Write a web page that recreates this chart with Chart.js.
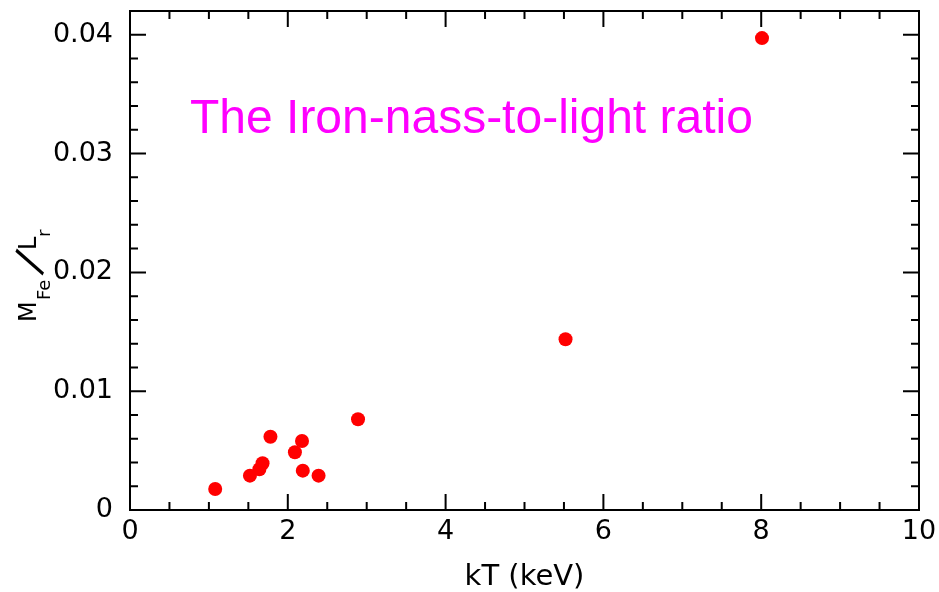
<!DOCTYPE html>
<html>
<head>
<meta charset="utf-8">
<script src="https://cdn.jsdelivr.net/npm/chart.js@4.4.1/dist/chart.umd.min.js"></script>
<style>
  html, body { margin: 0; padding: 0; background: #fff; }
</style>
</head>
<body>
<canvas id="ironChart" width="939" height="592"></canvas>
<script>
// data
const kT = [1.08, 1.52, 1.64, 1.68, 1.78, 2.09, 2.18, 2.19, 2.39, 2.89, 5.52, 8.01];
const massToLight = [0.00177, 0.00289, 0.00343, 0.00393, 0.00617, 0.00486, 0.00581, 0.00331, 0.00289, 0.00764, 0.01437, 0.03972];

const xTicks = [0, 2, 4, 6, 8, 10];
const xTickLabels = ['0', '2', '4', '6', '8', '10'];
const xMinorTicks = [0.5, 1, 1.5, 2.5, 3, 3.5, 4.5, 5, 5.5, 6.5, 7, 7.5, 8.5, 9, 9.5];
const yTicks = [0, 0.01, 0.02, 0.03, 0.04];
const yTickLabels = ['0', '0.01', '0.02', '0.03', '0.04'];
const yMinorTicks = [0.002, 0.004, 0.006, 0.008, 0.012, 0.014, 0.016, 0.018, 0.022, 0.024, 0.026, 0.028, 0.032, 0.034, 0.036, 0.038];

const titleText = 'The Iron-nass-to-light ratio';
const xTitle = 'kT (keV)';

const points = kT.map((x, i) => ({ x: x, y: massToLight[i] }));

// frame, inward ticks on all sides, titles
const framePlugin = {
  id: 'frame',
  afterDraw(chart) {
    const ctx = chart.ctx;
    const a = chart.chartArea;
    const xs = chart.scales.x;
    const ys = chart.scales.y;
    ctx.save();
    ctx.strokeStyle = '#000';
    ctx.lineWidth = 2;
    ctx.strokeRect(a.left, a.top, a.right - a.left, a.bottom - a.top);

    ctx.beginPath();
    const xTick = (v, len) => {
      const px = xs.getPixelForValue(v);
      ctx.moveTo(px, a.bottom); ctx.lineTo(px, a.bottom - len);
      ctx.moveTo(px, a.top); ctx.lineTo(px, a.top + len);
    };
    const yTick = (v, len) => {
      const py = ys.getPixelForValue(v);
      ctx.moveTo(a.left, py); ctx.lineTo(a.left + len, py);
      ctx.moveTo(a.right, py); ctx.lineTo(a.right - len, py);
    };
    xTicks.forEach(v => xTick(v, 16));
    xMinorTicks.forEach(v => xTick(v, 8));
    yTicks.forEach(v => yTick(v, 16));
    yMinorTicks.forEach(v => yTick(v, 8));
    ctx.stroke();

    // title inside the plot
    ctx.fillStyle = '#ff00ff';
    ctx.font = '48px "Liberation Sans", Arial, sans-serif';
    ctx.textBaseline = 'alphabetic';
    ctx.textAlign = 'left';
    ctx.fillText(titleText, 190, 133);

    // x axis title
    ctx.fillStyle = '#000';
    ctx.font = '29px "DejaVu Sans", sans-serif';
    ctx.textAlign = 'center';
    ctx.fillText(xTitle, (a.left + a.right) / 2, 585);

    // y axis title M_Fe / L_r, rotated
    ctx.translate(36, 322);
    ctx.rotate(-Math.PI / 2);
    ctx.textAlign = 'left';
    const big = '24px "DejaVu Sans", sans-serif';
    const small = '18px "DejaVu Sans", sans-serif';
    ctx.font = big; ctx.fillText('M', 0, 0);
    ctx.font = small; ctx.fillText('Fe', 22, 14);
    ctx.save();
    ctx.translate(59, -4);
    ctx.rotate(0.42);
    ctx.textAlign = 'center';
    ctx.textBaseline = 'middle';
    ctx.font = '42px "DejaVu Sans", sans-serif';
    ctx.fillText('/', 0, 0);
    ctx.restore();
    ctx.font = big; ctx.fillText('L', 72, 0);
    ctx.font = small; ctx.fillText('r', 85, 14);
    ctx.restore();
  }
};

new Chart(document.getElementById('ironChart'), {
  type: 'scatter',
  data: {
    datasets: [{
      data: points,
      backgroundColor: '#ff0000',
      borderWidth: 0,
      pointRadius: 7,
      pointHoverRadius: 7
    }]
  },
  options: {
    responsive: false,
    animation: false,
    layout: { padding: { top: 11, right: 20, left: 0, bottom: 0 } },
    plugins: {
      legend: { display: false },
      tooltip: { enabled: false }
    },
    scales: {
      x: {
        type: 'linear',
        min: 0,
        max: 10,
        grid: { display: false, drawTicks: false },
        border: { display: false },
        afterBuildTicks: s => { s.ticks = xTicks.map(v => ({ value: v })); },
        afterFit: s => { s.height = 82; s.paddingLeft = 0; s.paddingRight = 0; },
        ticks: {
          padding: 6,
          color: '#000',
          maxRotation: 0,
          font: { family: '"DejaVu Sans", sans-serif', size: 27 },
          callback: (v, i) => xTickLabels[i]
        }
      },
      y: {
        type: 'linear',
        min: 0,
        max: 0.042,
        grid: { display: false, drawTicks: false },
        border: { display: false },
        afterBuildTicks: s => { s.ticks = yTicks.map(v => ({ value: v })); },
        afterFit: s => { s.width = 130; s.paddingTop = 0; s.paddingBottom = 0; },
        ticks: {
          padding: 17,
          color: '#000',
          font: { family: '"DejaVu Sans", sans-serif', size: 27 },
          callback: (v, i) => yTickLabels[i]
        }
      }
    }
  },
  plugins: [framePlugin]
});
</script>
</body>
</html>
